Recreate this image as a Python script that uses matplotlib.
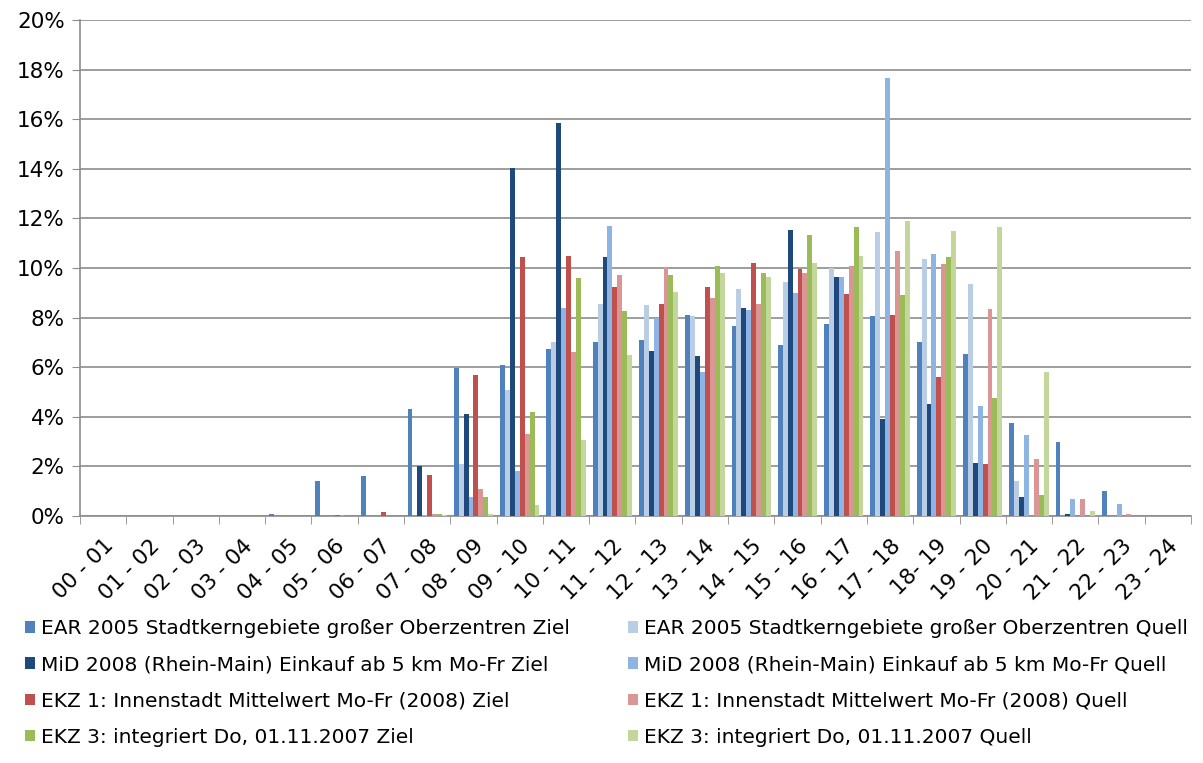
import numpy as np
import matplotlib
matplotlib.use("Agg")
import matplotlib.pyplot as plt
from matplotlib.ticker import PercentFormatter, FixedLocator

# Zeitintervalle
stunden = ["00 - 01", "01 - 02", "02 - 03", "03 - 04", "04 - 05", "05 - 06",
           "06 - 07", "07 - 08", "08 - 09", "09 - 10", "10 - 11", "11 - 12",
           "12 - 13", "13 - 14", "14 - 15", "15 - 16", "16 - 17", "17 - 18",
           "18- 19", "19 - 20", "20 - 21", "21 - 22", "22 - 23", "23 - 24"]

# Werte in Prozent
ear_ziel = [0, 0, 0, 0, 0.1, 1.4, 1.6, 4.3, 5.95, 6.1, 6.75, 7.0, 7.1, 8.1,
            7.65, 6.9, 7.75, 8.05, 7.0, 6.55, 3.75, 3.0, 1.0, 0]
ear_quell = [0, 0, 0, 0, 0, 0, 0, 0, 2.1, 5.1, 7.0, 8.55, 8.5, 8.05,
             9.15, 9.45, 10.0, 11.45, 10.35, 9.35, 1.4, 0, 0, 0]
mid_ziel = [0, 0, 0, 0, 0, 0, 0, 2.0, 4.1, 14.05, 15.85, 10.45, 6.65, 6.45,
            8.4, 11.55, 9.65, 3.9, 4.5, 2.15, 0.75, 0.1, 0, 0]
mid_quell = [0, 0, 0, 0, 0, 0, 0, 0.05, 0.75, 1.8, 8.4, 11.7, 8.0, 5.8,
             8.3, 9.0, 9.65, 17.65, 10.55, 4.45, 3.25, 0.7, 0.5, 0]
ekz1_ziel = [0, 0, 0, 0, 0, 0.05, 0.15, 1.65, 5.7, 10.45, 10.5, 9.25, 8.55, 9.25,
             10.2, 9.95, 8.95, 8.1, 5.6, 2.1, 0, 0, 0, 0]
ekz1_quell = [0, 0, 0, 0, 0, 0.05, 0, 0.1, 1.1, 3.3, 6.6, 9.7, 10.05, 8.8,
              8.55, 9.8, 10.1, 10.7, 10.15, 8.35, 2.3, 0.7, 0.1, 0]
ekz3_ziel = [0, 0, 0, 0, 0, 0, 0, 0.1, 0.75, 4.2, 9.6, 8.25, 9.7, 10.1,
             9.8, 11.35, 11.65, 8.9, 10.45, 4.75, 0.85, 0, 0, 0]
ekz3_quell = [0, 0, 0, 0, 0, 0, 0, 0.05, 0.1, 0.45, 3.05, 6.5, 9.05, 9.8,
              9.65, 10.2, 10.5, 11.9, 11.5, 11.65, 5.8, 0.2, 0, 0]

reihen = [
    ("EAR 2005 Stadtkerngebiete großer Oberzentren Ziel", ear_ziel, "#4F81BD"),
    ("EAR 2005 Stadtkerngebiete großer Oberzentren Quell", ear_quell, "#B9CDE5"),
    ("MiD 2008 (Rhein-Main) Einkauf ab 5 km Mo-Fr Ziel", mid_ziel, "#1F497D"),
    ("MiD 2008 (Rhein-Main) Einkauf ab 5 km Mo-Fr Quell", mid_quell, "#8EB4E3"),
    ("EKZ 1: Innenstadt Mittelwert Mo-Fr (2008) Ziel", ekz1_ziel, "#C0504D"),
    ("EKZ 1: Innenstadt Mittelwert Mo-Fr (2008) Quell", ekz1_quell, "#D99694"),
    ("EKZ 3: integriert Do, 01.11.2007 Ziel", ekz3_ziel, "#9BBB59"),
    ("EKZ 3: integriert Do, 01.11.2007 Quell", ekz3_quell, "#C3D69B"),
]

plt.rcParams['font.family'] = ['DejaVu Sans']

fig = plt.figure(figsize=(12.03, 7.63), dpi=100)
ax = fig.add_axes([0.0665, 0.3237, 0.9235, 0.6501])

x = np.arange(len(stunden))
n = len(reihen)
w = 0.85 / n
handles = []
for i, (name, werte, farbe) in enumerate(reihen):
    b = ax.bar(x - 0.425 + w * (i + 0.5), werte, width=w, color=farbe,
               label=name, zorder=3)
    handles.append(b)

ax.set_xlim(-0.5, len(stunden) - 0.5)
ax.set_ylim(0, 20)
ax.set_yticks(np.arange(0, 21, 2))
ax.yaxis.set_major_formatter(PercentFormatter(decimals=0))
ax.grid(axis='y', color='#8c8c8c', linewidth=1.2, zorder=0)

ax.set_xticks(x)
ax.set_xticklabels(stunden, rotation=45, ha='right', va='top',
                   rotation_mode='anchor')
ax.xaxis.set_minor_locator(FixedLocator(np.arange(-0.5, len(stunden), 1)))
ax.tick_params(axis='x', which='major', length=0, pad=14, labelsize=15.5)
ax.tick_params(axis='x', which='minor', length=6, color='#8c8c8c', direction='out')
ax.tick_params(axis='y', length=6, color='#8c8c8c', labelsize=15.5, pad=5)

for s in ['top', 'right']:
    ax.spines[s].set_visible(False)
for s in ['left', 'bottom']:
    ax.spines[s].set_color('#8c8c8c')
    ax.spines[s].set_linewidth(1.2)

# Legende: zwei Spalten, Ziel links, Quell rechts
reihenfolge = [0, 2, 4, 6, 1, 3, 5, 7]
fig.legend([handles[k] for k in reihenfolge],
           [reihen[k][0] for k in reihenfolge],
           loc='upper left', bbox_to_anchor=(0.014, 0.199), ncol=2,
           frameon=False, fontsize=14.5, handlelength=0.5, handleheight=0.5,
           handletextpad=0.3, columnspacing=2.9, labelspacing=0.85,
           borderaxespad=0)

fig.savefig("out.png", dpi=100)
